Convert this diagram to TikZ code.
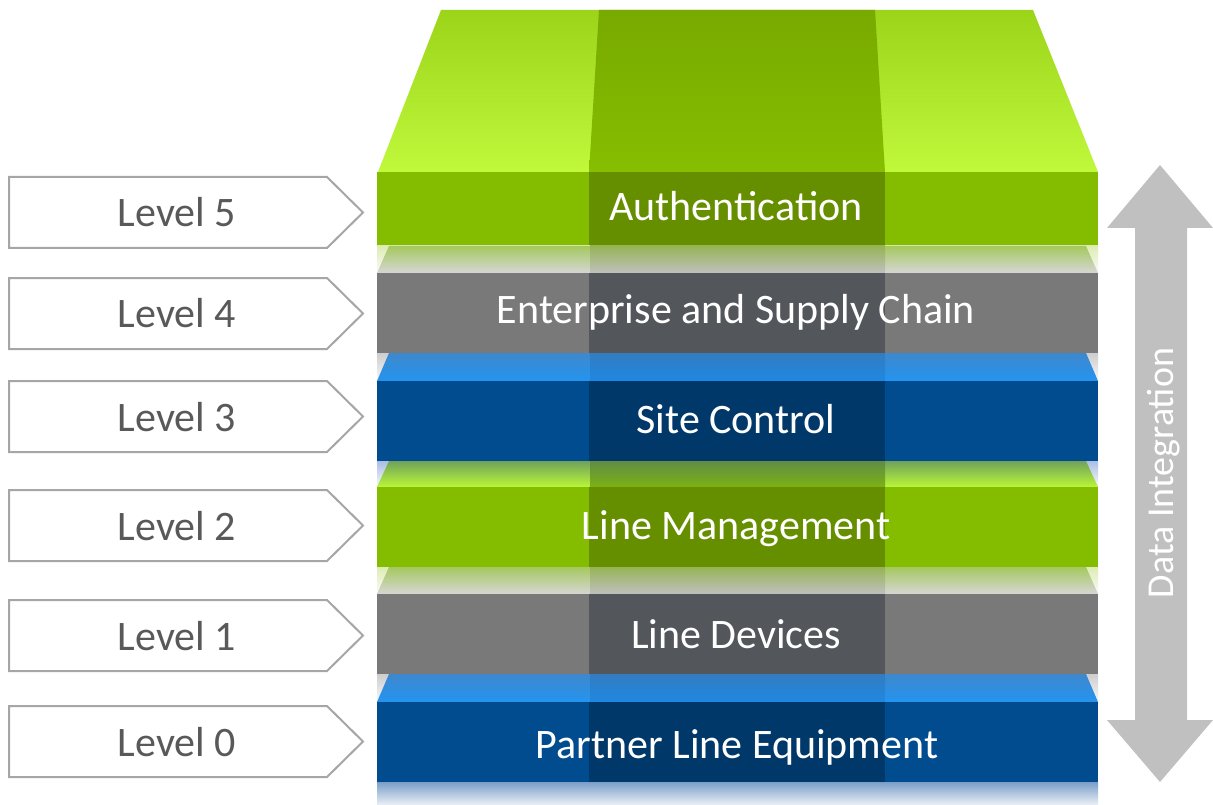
\documentclass[tikz,border=0pt]{standalone}
\usepackage{fontspec}
\setmainfont{Carlito}
\definecolor{gF}{RGB}{132,189,0}
\definecolor{gM}{RGB}{102,143,0}
\definecolor{kF}{RGB}{121,121,121}
\definecolor{kM}{RGB}{83,86,90}
\definecolor{bF}{RGB}{0,76,143}
\definecolor{bM}{RGB}{0,56,105}
% top faces
\definecolor{gTopA}{RGB}{155,212,25}
\definecolor{gTopB}{RGB}{192,248,60}
\definecolor{gTopMA}{RGB}{120,170,0}
\definecolor{gTopMB}{RGB}{134,190,0}
% grey top face under green
\definecolor{kTA}{RGB}{165,200,95}
\definecolor{kTB}{RGB}{214,214,212}
\definecolor{kTMA}{RGB}{150,180,85}
\definecolor{kTMB}{RGB}{192,192,190}
\definecolor{kRA}{RGB}{222,236,180}
\definecolor{kRB}{RGB}{250,250,250}
% blue top face under grey
\definecolor{bTA}{RGB}{62,136,205}
\definecolor{bTB}{RGB}{36,148,240}
\definecolor{bTMA}{RGB}{52,124,192}
\definecolor{bTMB}{RGB}{30,136,226}
\definecolor{bRA}{RGB}{205,205,205}
\definecolor{bRB}{RGB}{248,248,248}
% green top face under blue
\definecolor{lTA}{RGB}{112,162,92}
\definecolor{lTB}{RGB}{186,246,56}
\definecolor{lTMA}{RGB}{96,140,70}
\definecolor{lTMB}{RGB}{124,178,20}
\definecolor{lRA}{RGB}{170,190,228}
\definecolor{lRB}{RGB}{250,250,252}
% bottom reflection
\definecolor{eRA}{RGB}{122,158,200}
\definecolor{eRB}{RGB}{236,240,246}
\definecolor{lvlline}{RGB}{166,166,166}
\definecolor{lvltext}{RGB}{89,89,89}
\definecolor{dacol}{RGB}{192,192,192}
\tikzset{
  slabtext/.style={text=white, anchor=base, inner sep=0pt, font=\fontsize{42}{50}\selectfont},
  lvlbox/.style={draw=lvlline, line width=2pt, fill=white, line join=miter},
  lvltxt/.style={text=lvltext, anchor=base, inner sep=0pt, font=\fontsize{42}{50}\selectfont},
}
% front face: ytop ybot front mid
\newcommand\myslab[4]{%
  \fill[#3] (377,#1) rectangle (1098,#2);
  \fill[#4] (589,#1) rectangle (885,#2);
}
% gap: y1 y2 reflTop reflBot faceTop faceBot midTop midBot
\newcommand\mygap[8]{%
  \shade[top color=#3, bottom color=#4] (377,#1) rectangle (1098,#2);
  \shade[top color=#5, bottom color=#6] (389,#1) -- (1086,#1) -- (1098,#2) -- (377,#2) -- cycle;
  \shade[top color=#7, bottom color=#8] (590,#1) rectangle (885,#2);
}
\newcommand\mylevel[3]{% name ytop ybot
  \draw[lvlbox] (9,#2) -- (327,#2) -- (363,{(#2+#3)/2}) -- (327,#3) -- (9,#3) -- cycle;
}
\begin{document}
\begin{tikzpicture}[x=1pt,y=-1pt]
\fill[white] (0,0) rectangle (1213,805);
\useasboundingbox (0,0) rectangle (1213,805);
% big top face
\shade[top color=gTopA, bottom color=gTopB] (441,10) -- (1033,10) -- (1098,172) -- (378,172) -- cycle;
\shade[top color=gTopMA, bottom color=gTopMB] (599,10) -- (875,10) -- (885,172) -- (589,172) -- cycle;
% slabs
\myslab{172}{246}{gF}{gM}
\mygap{246}{273}{kRA}{kRB}{kTA}{kTB}{kTMA}{kTMB}
\myslab{273}{353}{kF}{kM}
\mygap{353}{381}{bRA}{bRB}{bTA}{bTB}{bTMA}{bTMB}
\myslab{381}{461}{bF}{bM}
\mygap{461}{487}{lRA}{lRB}{lTA}{lTB}{lTMA}{lTMB}
\myslab{487}{567}{gF}{gM}
\mygap{567}{594}{kRA}{kRB}{kTA}{kTB}{kTMA}{kTMB}
\myslab{594}{674}{kF}{kM}
\mygap{674}{702}{bRA}{bRB}{bTA}{bTB}{bTMA}{bTMB}
\myslab{702}{782}{bF}{bM}
\shade[top color=eRA, bottom color=eRB] (377,782) rectangle (1098,805);
% slab labels
\node[slabtext] (auth) at (736,221) {Authentication};
\node[slabtext] (ent) at (736,323) {Enterprise and Supply Chain};
\node[slabtext] (site) at (736,433) {Site Control};
\node[slabtext] (lm) at (736,539) {Line Management};
\node[slabtext] (ld) at (736,648) {Line Devices};
\node[slabtext] (ple) at (737,758) {Partner Line Equipment};
% level arrows
\mylevel{l5}{177}{248}
\mylevel{l4}{278}{349}
\mylevel{l3}{381}{452}
\mylevel{l2}{490}{561}
\mylevel{l1}{600}{671}
\mylevel{l0}{706}{777}
\node[lvltxt] (t5) at (177,227) {Level 5};
\node[lvltxt] (t4) at (177,327) {Level 4};
\node[lvltxt] (t3) at (177,431) {Level 3};
\node[lvltxt] (t2) at (177,540) {Level 2};
\node[lvltxt] (t1) at (177,650) {Level 1};
\node[lvltxt] (t0) at (177,756) {Level 0};
% data integration arrow
\fill[dacol] (1160,165) -- (1213,228) -- (1187,228) -- (1187,720) -- (1213,720) -- (1160,782) -- (1107,720) -- (1135,720) -- (1135,228) -- (1107,228) -- cycle;
\node[rotate=90, text=white, inner sep=0pt, font=\fontsize{38}{45}\selectfont] (di) at (1164,473) {Data Integration};
\end{tikzpicture}
\end{document}
